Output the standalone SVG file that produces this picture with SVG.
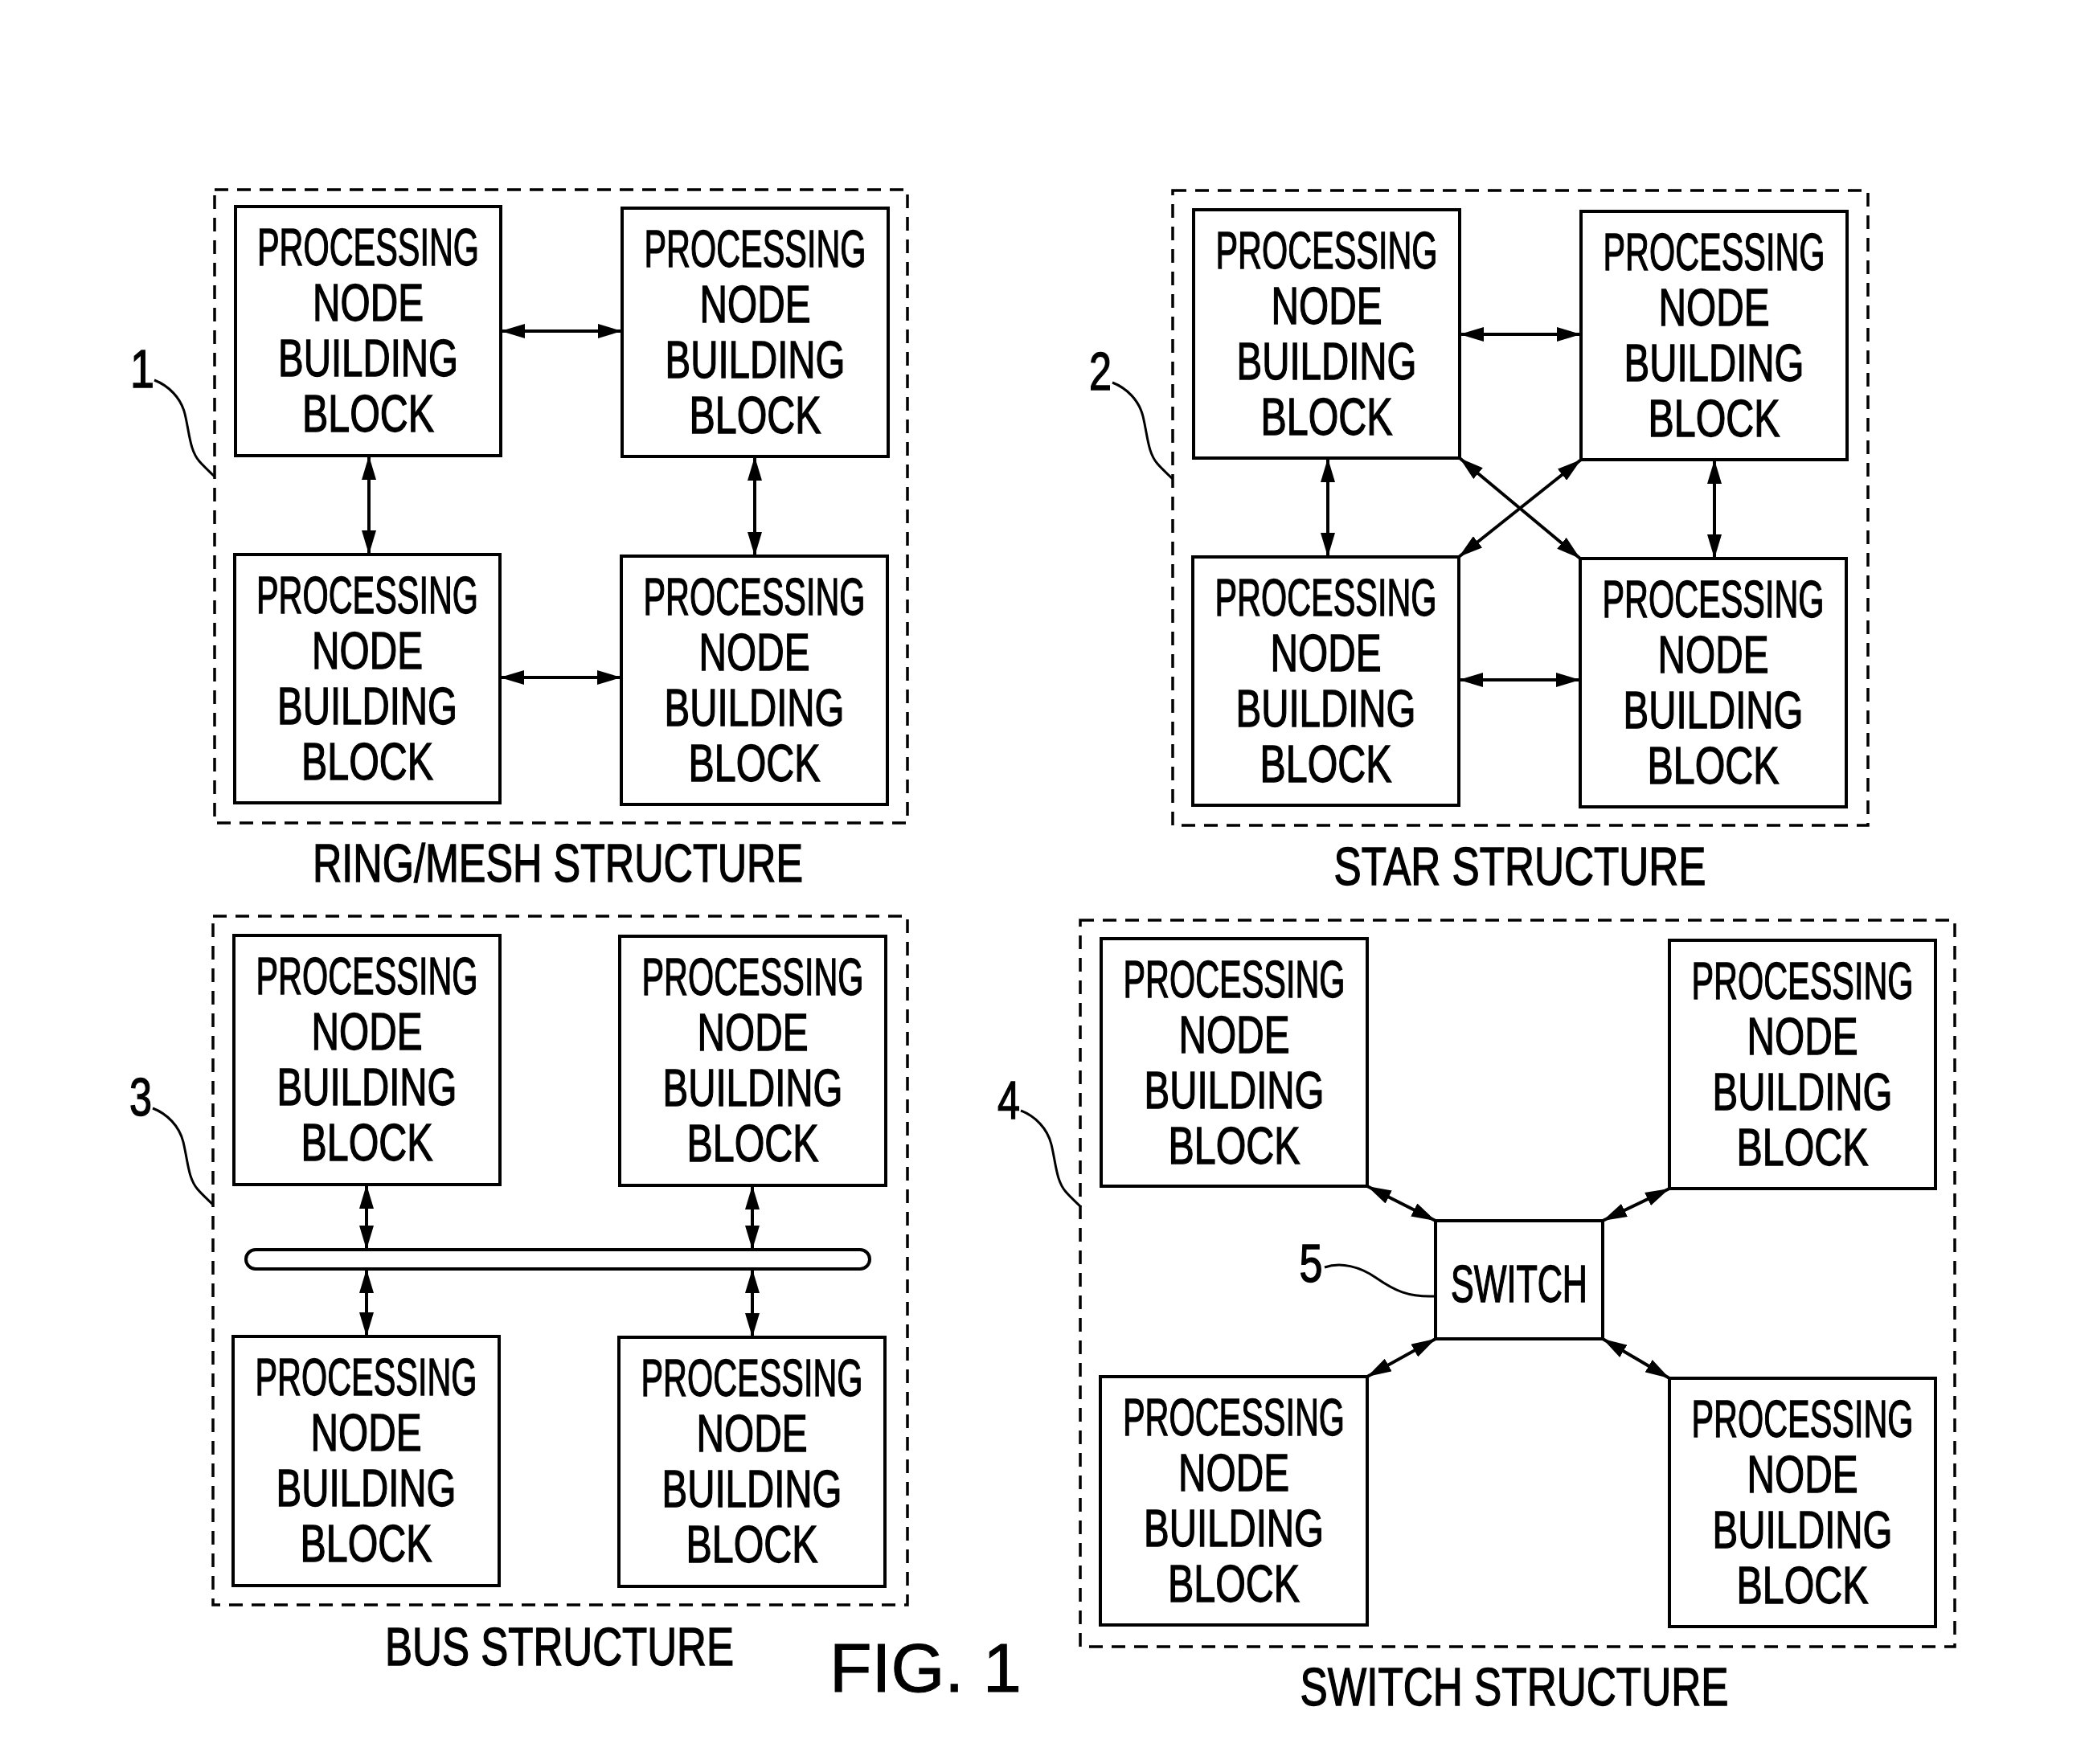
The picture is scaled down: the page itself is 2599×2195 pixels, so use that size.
<svg xmlns="http://www.w3.org/2000/svg" width="2599" height="2195" viewBox="0 0 2599 2195">
<style>
.bg{fill:#fff}
.box{fill:#fff;stroke:#000;stroke-width:4}
.dash{fill:none;stroke:#000;stroke-width:3.5;stroke-dasharray:17 11}
.arr{fill:none;stroke:#000;stroke-width:4;marker-start:url(#ah);marker-end:url(#ah)}
.lead{fill:none;stroke:#000;stroke-width:3}
.bar{fill:#fff;stroke:#000;stroke-width:4}
text{font-family:"Liberation Sans",Arial,Helvetica,sans-serif;fill:#000;stroke:#000;stroke-width:1.4}
.t{font-size:64px;text-anchor:middle}
.h{font-size:66px;text-anchor:middle}
.n{font-size:66px;text-anchor:middle}
.fig{font-size:86px;stroke-width:1}
</style>
<defs>
<marker id="ah" markerUnits="userSpaceOnUse" viewBox="0 0 30 18" markerWidth="30" markerHeight="18" refX="30" refY="9" orient="auto-start-reverse">
<path d="M0,0 L30,9 L0,18 z" fill="#000"/>
</marker>
</defs>
<rect class="bg" x="0" y="0" width="2599" height="2195"/>

<!-- group outlines -->
<g id="groups">
<rect id="ring-frame" class="dash" x="267" y="236" width="862" height="788"/>
<rect id="star-frame" class="dash" x="1459" y="237" width="865" height="790"/>
<rect id="bus-frame" class="dash" x="265" y="1140" width="864" height="857"/>
<rect id="switch-frame" class="dash" x="1344" y="1145" width="1088" height="904"/>
</g>

<!-- connectors -->
<g id="connectors">
<line class="arr" x1="623" y1="412" x2="774" y2="412"/>
<line class="arr" x1="622" y1="843" x2="773" y2="843"/>
<line class="arr" x1="459" y1="567" x2="459" y2="690"/>
<line class="arr" x1="939" y1="568" x2="939" y2="692"/>

<line class="arr" x1="1816" y1="416" x2="1967" y2="416"/>
<line class="arr" x1="1815" y1="846" x2="1966" y2="846"/>
<line class="arr" x1="1652" y1="570" x2="1652" y2="693"/>
<line class="arr" x1="2133" y1="572" x2="2133" y2="695"/>
<line class="arr" x1="1816" y1="570" x2="1966" y2="695"/>
<line class="arr" x1="1967" y1="572" x2="1815" y2="693"/>

<line class="arr" x1="456" y1="1474" x2="456" y2="1555"/>
<line class="arr" x1="456" y1="1579" x2="456" y2="1663"/>
<line class="arr" x1="936" y1="1475" x2="936" y2="1555"/>
<line class="arr" x1="936" y1="1579" x2="936" y2="1664"/>

<line class="arr" x1="1701" y1="1476" x2="1786" y2="1519"/>
<line class="arr" x1="2077" y1="1479" x2="1994" y2="1519"/>
<line class="arr" x1="1701" y1="1713" x2="1786" y2="1666"/>
<line class="arr" x1="2077" y1="1715" x2="1994" y2="1666"/>

<path class="lead" d="M192,473 C210,480 225,495 230,515 C236,540 236,560 248,574 C255,582 262,588 267,593"/>
<path class="lead" d="M1384,476 C1402,483 1417,498 1422,518 C1428,543 1428,563 1440,577 C1447,585 1454,591 1459,596"/>
<path class="lead" d="M190,1379 C208,1386 223,1401 228,1421 C234,1446 234,1466 246,1480 C253,1488 260,1494 265,1499"/>
<path class="lead" d="M1270,1382 C1288,1389 1303,1404 1308,1424 C1314,1449 1314,1469 1326,1483 C1333,1491 1340,1497 1345,1502"/>
<path class="lead" d="M1648,1577 C1668,1570 1692,1576 1712,1590 C1735,1606 1752,1614 1784,1613"/>
</g>

<!-- bus bar -->
<g id="bus-bar">
<rect class="bar" x="306" y="1555" width="776" height="24" rx="12" ry="12"/>
</g>

<!-- ring nodes -->
<g id="ring-tl">
<rect class="box" x="293" y="257" width="330" height="310"/>
<text class="t" x="458" y="330" textLength="276" lengthAdjust="spacingAndGlyphs">PROCESSING</text>
<text class="t" x="458" y="399" textLength="138" lengthAdjust="spacingAndGlyphs">NODE</text>
<text class="t" x="458" y="468" textLength="224" lengthAdjust="spacingAndGlyphs">BUILDING</text>
<text class="t" x="458" y="537" textLength="164" lengthAdjust="spacingAndGlyphs">BLOCK</text>
</g>
<g id="ring-tr">
<rect class="box" x="774" y="259" width="331" height="309"/>
<text class="t" x="939.5" y="332" textLength="276" lengthAdjust="spacingAndGlyphs">PROCESSING</text>
<text class="t" x="939.5" y="401" textLength="138" lengthAdjust="spacingAndGlyphs">NODE</text>
<text class="t" x="939.5" y="470" textLength="224" lengthAdjust="spacingAndGlyphs">BUILDING</text>
<text class="t" x="939.5" y="539" textLength="164" lengthAdjust="spacingAndGlyphs">BLOCK</text>
</g>
<g id="ring-bl">
<rect class="box" x="292" y="690" width="330" height="309"/>
<text class="t" x="457" y="763" textLength="276" lengthAdjust="spacingAndGlyphs">PROCESSING</text>
<text class="t" x="457" y="832" textLength="138" lengthAdjust="spacingAndGlyphs">NODE</text>
<text class="t" x="457" y="901" textLength="224" lengthAdjust="spacingAndGlyphs">BUILDING</text>
<text class="t" x="457" y="970" textLength="164" lengthAdjust="spacingAndGlyphs">BLOCK</text>
</g>
<g id="ring-br">
<rect class="box" x="773" y="692" width="331" height="309"/>
<text class="t" x="938.5" y="765" textLength="276" lengthAdjust="spacingAndGlyphs">PROCESSING</text>
<text class="t" x="938.5" y="834" textLength="138" lengthAdjust="spacingAndGlyphs">NODE</text>
<text class="t" x="938.5" y="903" textLength="224" lengthAdjust="spacingAndGlyphs">BUILDING</text>
<text class="t" x="938.5" y="972" textLength="164" lengthAdjust="spacingAndGlyphs">BLOCK</text>
</g>

<!-- star nodes -->
<g id="star-tl">
<rect class="box" x="1485" y="261" width="331" height="309"/>
<text class="t" x="1650.5" y="334" textLength="276" lengthAdjust="spacingAndGlyphs">PROCESSING</text>
<text class="t" x="1650.5" y="403" textLength="138" lengthAdjust="spacingAndGlyphs">NODE</text>
<text class="t" x="1650.5" y="472" textLength="224" lengthAdjust="spacingAndGlyphs">BUILDING</text>
<text class="t" x="1650.5" y="541" textLength="164" lengthAdjust="spacingAndGlyphs">BLOCK</text>
</g>
<g id="star-tr">
<rect class="box" x="1967" y="263" width="331" height="309"/>
<text class="t" x="2132.5" y="336" textLength="276" lengthAdjust="spacingAndGlyphs">PROCESSING</text>
<text class="t" x="2132.5" y="405" textLength="138" lengthAdjust="spacingAndGlyphs">NODE</text>
<text class="t" x="2132.5" y="474" textLength="224" lengthAdjust="spacingAndGlyphs">BUILDING</text>
<text class="t" x="2132.5" y="543" textLength="164" lengthAdjust="spacingAndGlyphs">BLOCK</text>
</g>
<g id="star-bl">
<rect class="box" x="1484" y="693" width="331" height="309"/>
<text class="t" x="1649.5" y="766" textLength="276" lengthAdjust="spacingAndGlyphs">PROCESSING</text>
<text class="t" x="1649.5" y="835" textLength="138" lengthAdjust="spacingAndGlyphs">NODE</text>
<text class="t" x="1649.5" y="904" textLength="224" lengthAdjust="spacingAndGlyphs">BUILDING</text>
<text class="t" x="1649.5" y="973" textLength="164" lengthAdjust="spacingAndGlyphs">BLOCK</text>
</g>
<g id="star-br">
<rect class="box" x="1966" y="695" width="331" height="309"/>
<text class="t" x="2131.5" y="768" textLength="276" lengthAdjust="spacingAndGlyphs">PROCESSING</text>
<text class="t" x="2131.5" y="837" textLength="138" lengthAdjust="spacingAndGlyphs">NODE</text>
<text class="t" x="2131.5" y="906" textLength="224" lengthAdjust="spacingAndGlyphs">BUILDING</text>
<text class="t" x="2131.5" y="975" textLength="164" lengthAdjust="spacingAndGlyphs">BLOCK</text>
</g>

<!-- bus nodes -->
<g id="bus-tl">
<rect class="box" x="291" y="1164" width="331" height="310"/>
<text class="t" x="456.5" y="1237" textLength="276" lengthAdjust="spacingAndGlyphs">PROCESSING</text>
<text class="t" x="456.5" y="1306" textLength="138" lengthAdjust="spacingAndGlyphs">NODE</text>
<text class="t" x="456.5" y="1375" textLength="224" lengthAdjust="spacingAndGlyphs">BUILDING</text>
<text class="t" x="456.5" y="1444" textLength="164" lengthAdjust="spacingAndGlyphs">BLOCK</text>
</g>
<g id="bus-tr">
<rect class="box" x="771" y="1165" width="331" height="310"/>
<text class="t" x="936.5" y="1238" textLength="276" lengthAdjust="spacingAndGlyphs">PROCESSING</text>
<text class="t" x="936.5" y="1307" textLength="138" lengthAdjust="spacingAndGlyphs">NODE</text>
<text class="t" x="936.5" y="1376" textLength="224" lengthAdjust="spacingAndGlyphs">BUILDING</text>
<text class="t" x="936.5" y="1445" textLength="164" lengthAdjust="spacingAndGlyphs">BLOCK</text>
</g>
<g id="bus-bl">
<rect class="box" x="290" y="1663" width="331" height="310"/>
<text class="t" x="455.5" y="1736" textLength="276" lengthAdjust="spacingAndGlyphs">PROCESSING</text>
<text class="t" x="455.5" y="1805" textLength="138" lengthAdjust="spacingAndGlyphs">NODE</text>
<text class="t" x="455.5" y="1874" textLength="224" lengthAdjust="spacingAndGlyphs">BUILDING</text>
<text class="t" x="455.5" y="1943" textLength="164" lengthAdjust="spacingAndGlyphs">BLOCK</text>
</g>
<g id="bus-br">
<rect class="box" x="770" y="1664" width="331" height="310"/>
<text class="t" x="935.5" y="1737" textLength="276" lengthAdjust="spacingAndGlyphs">PROCESSING</text>
<text class="t" x="935.5" y="1806" textLength="138" lengthAdjust="spacingAndGlyphs">NODE</text>
<text class="t" x="935.5" y="1875" textLength="224" lengthAdjust="spacingAndGlyphs">BUILDING</text>
<text class="t" x="935.5" y="1944" textLength="164" lengthAdjust="spacingAndGlyphs">BLOCK</text>
</g>

<!-- switch nodes -->
<g id="switch-tl">
<rect class="box" x="1370" y="1168" width="331" height="308"/>
<text class="t" x="1535.5" y="1241" textLength="276" lengthAdjust="spacingAndGlyphs">PROCESSING</text>
<text class="t" x="1535.5" y="1310" textLength="138" lengthAdjust="spacingAndGlyphs">NODE</text>
<text class="t" x="1535.5" y="1379" textLength="224" lengthAdjust="spacingAndGlyphs">BUILDING</text>
<text class="t" x="1535.5" y="1448" textLength="164" lengthAdjust="spacingAndGlyphs">BLOCK</text>
</g>
<g id="switch-tr">
<rect class="box" x="2077" y="1170" width="331" height="309"/>
<text class="t" x="2242.5" y="1243" textLength="276" lengthAdjust="spacingAndGlyphs">PROCESSING</text>
<text class="t" x="2242.5" y="1312" textLength="138" lengthAdjust="spacingAndGlyphs">NODE</text>
<text class="t" x="2242.5" y="1381" textLength="224" lengthAdjust="spacingAndGlyphs">BUILDING</text>
<text class="t" x="2242.5" y="1450" textLength="164" lengthAdjust="spacingAndGlyphs">BLOCK</text>
</g>
<g id="switch-bl">
<rect class="box" x="1369" y="1713" width="332" height="309"/>
<text class="t" x="1535" y="1786" textLength="276" lengthAdjust="spacingAndGlyphs">PROCESSING</text>
<text class="t" x="1535" y="1855" textLength="138" lengthAdjust="spacingAndGlyphs">NODE</text>
<text class="t" x="1535" y="1924" textLength="224" lengthAdjust="spacingAndGlyphs">BUILDING</text>
<text class="t" x="1535" y="1993" textLength="164" lengthAdjust="spacingAndGlyphs">BLOCK</text>
</g>
<g id="switch-br">
<rect class="box" x="2077" y="1715" width="331" height="309"/>
<text class="t" x="2242.5" y="1788" textLength="276" lengthAdjust="spacingAndGlyphs">PROCESSING</text>
<text class="t" x="2242.5" y="1857" textLength="138" lengthAdjust="spacingAndGlyphs">NODE</text>
<text class="t" x="2242.5" y="1926" textLength="224" lengthAdjust="spacingAndGlyphs">BUILDING</text>
<text class="t" x="2242.5" y="1995" textLength="164" lengthAdjust="spacingAndGlyphs">BLOCK</text>
</g>
<g id="switch">
<rect class="box" x="1786" y="1519" width="208" height="147"/>
<text class="t" x="1890" y="1620" textLength="170" lengthAdjust="spacingAndGlyphs">SWITCH</text>
</g>

<!-- labels -->
<g id="labels">
<text class="n" x="177" y="482" textLength="30" lengthAdjust="spacingAndGlyphs">1</text>
<text class="n" x="1369" y="485" textLength="28" lengthAdjust="spacingAndGlyphs">2</text>
<text class="n" x="175" y="1388" textLength="28" lengthAdjust="spacingAndGlyphs">3</text>
<text class="n" x="1255" y="1392" textLength="28" lengthAdjust="spacingAndGlyphs">4</text>
<text class="n" x="1631" y="1595" textLength="29" lengthAdjust="spacingAndGlyphs">5</text>
<text class="h" x="694" y="1097" textLength="610" lengthAdjust="spacingAndGlyphs">RING/MESH STRUCTURE</text>
<text class="h" x="1891" y="1101" textLength="463" lengthAdjust="spacingAndGlyphs">STAR STRUCTURE</text>
<text class="h" x="696" y="2072" textLength="434" lengthAdjust="spacingAndGlyphs">BUS STRUCTURE</text>
<text class="h" x="1884" y="2122" textLength="533" lengthAdjust="spacingAndGlyphs">SWITCH STRUCTURE</text>
<text class="fig" x="1032" y="2105">FIG. 1</text>
</g>
</svg>
